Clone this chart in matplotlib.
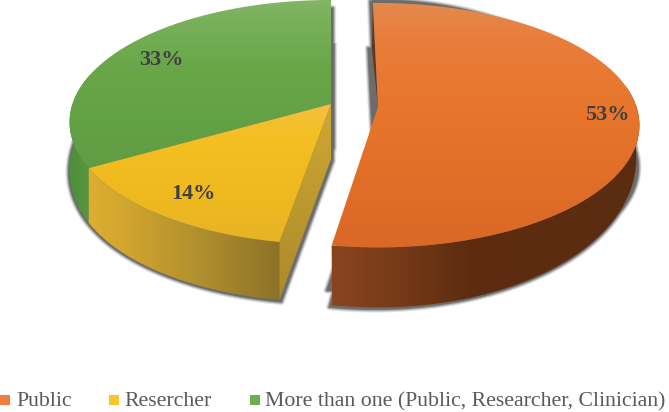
import numpy as np
import matplotlib
matplotlib.use("Agg")
import matplotlib.pyplot as plt
from matplotlib.colors import LinearSegmentedColormap
from matplotlib.patches import Polygon, Rectangle

categories = ["Public", "Resercher", "More than one (Public, Researcher, Clinician)"]
shares = [53, 14, 33]
percent_labels = ["53%", "14%", "33%"]

W, H = 669, 412
fig = plt.figure(figsize=(W / 100, H / 100), dpi=100)
ax = fig.add_axes([0, 0, 1, 1])
ax.set_axis_off()

K, B_Y = 0.149, 119.5
ends = np.cumsum(shares) / sum(shares) * 360.0
starts = np.r_[0.0, ends[:-1]]


def project(deg, cx, cy, a=258.5):
    t = np.radians(deg)
    u, v = np.sin(t), np.cos(t)
    w = 1 + K * v
    return cx + a * u / w, cy - B_Y * v / w, v


def lower(deg, cx, cy, kind):
    x, y, v = project(deg, cx, cy)
    if kind == "front":
        d = 60 - 32 * np.clip(1 + v, 0, 2)
        x = cx + (x - cx) * 0.988
    else:
        d = 58 - 13 * np.clip(1 + v, 0, 2) ** 2
    return x, y + d


def arc(a0, a1, n=200):
    return np.linspace(a0, a1, n)


def sector(deg, cx, cy):
    x, y, _ = project(deg, cx, cy)
    return np.c_[np.r_[cx, x], np.r_[cy, y]]


def gradient_fill(poly, stops, z, axis):
    """Fill a polygon with a colour ramp running along y (axis=0) or x (axis=1)."""
    size = H if axis == 0 else W
    cmap = LinearSegmentedColormap.from_list("g", [(p / size, c) for p, c in stops])
    g = np.linspace(0, 1, size)
    g = g[:, None] if axis == 0 else g[None, :]
    im = ax.imshow(g, cmap=cmap, vmin=0, vmax=1, extent=(0, W, H, 0), aspect="auto",
                   interpolation="bilinear", zorder=z)
    patch = Polygon(poly, closed=True, transform=ax.transData, fc="none", ec="none")
    ax.add_patch(patch)
    im.set_clip_path(patch)


def wall_poly(deg, cx, cy, kind):
    xt, yt, _ = project(deg, cx, cy)
    xb, yb = lower(deg, cx, cy, kind)
    return np.c_[np.r_[xt, xb[::-1]], np.r_[yt, yb[::-1]]]


def add_shadow(polys):
    layers = [(4.5, "#e4e4e4"), (3.0, "#bcbcbc"), (1.6, "#919191"), (0.4, "#6c6c6c")]
    for i, (lw, col) in enumerate(layers):
        for p in polys:
            ax.add_patch(Polygon(p, closed=True, fc=col, ec=col, lw=lw, joinstyle="round",
                                 zorder=1 + i * 0.1))


ROT_R0, ROT_R1, ROT_L = -1.3, -2.0, -1.0
RC = (378, 107)
LC = (331, 104)
orange = arc(starts[0] + ROT_R0, ends[0] + ROT_R1)
yellow = arc(starts[1] + ROT_L, ends[1] + ROT_L)
green = arc(starts[2] + ROT_L, ends[2])
left_all = arc(starts[1] + ROT_L, ends[2], 300)

top_l = sector(left_all, *LC)
xb, yb = lower(left_all, *LC, "left")
low_l = np.c_[np.r_[LC[0], xb], np.r_[LC[1] + 55, yb]]
top_r = sector(orange, *RC)
xb, yb = lower(orange, *RC, "front")
low_r = np.c_[np.r_[RC[0], xb], np.r_[RC[1] + 30, yb]]
add_shadow([top_l + (3, 44), low_l + (2, 2), low_l + (-1, 1),
            top_r + (-5, 45), top_r + (-1, 42), low_r + (-3, 2), low_r + (0, 1)])

gradient_fill(wall_poly(arc(starts[2] + ROT_L, 285, 80), *LC, "left"),
              [(0, "#4f8f3a"), (70, "#4f8f3a"), (93, "#5a9a42"), (W, "#5a9a42")], 2, 1)
gradient_fill(wall_poly(yellow, *LC, "left"),
              [(0, "#dcae30"), (90, "#dcae30"), (130, "#cfa42f"), (200, "#b08f2e"), (279, "#8d7228"), (W, "#8d7228")], 3, 1)

x_e, y_e, _ = project(np.array([starts[1] + ROT_L]), *LC)
x_l, y_l = lower(np.array([starts[1] + ROT_L]), *LC, "left")
gradient_fill([(LC[0], LC[1]), (x_e[0], y_e[0]), (x_l[0], y_l[0]), (LC[0], LC[1] + 55)],
              [(0, "#d0a733"), (104, "#d0a733"), (300, "#ab8a2a"), (H, "#ab8a2a")], 4, 0)

gradient_fill(sector(green, *LC), [(0, "#82b564"), (30, "#74ae56"), (70, "#68a648"), (170, "#5f9c43"), (H, "#5f9c43")], 5, 0)
gradient_fill(sector(yellow, *LC), [(0, "#f3c041"), (104, "#f3c041"), (135, "#f4bf22"), (200, "#eeb91f"), (245, "#e6b326"), (H, "#e6b326")], 6, 0)

gradient_fill(wall_poly(arc(80, ends[0] + ROT_R1, 160), *RC, "front"),
              [(0, "#8a4420"), (333, "#8a4420"), (400, "#753a18"), (470, "#5e2c10"), (640, "#5a2c10"), (W, "#5a2c10")], 2, 1)
xt, yt, _ = project(np.array([starts[0] + ROT_R0]), *RC)
ax.add_patch(Polygon([(xt[0], yt[0]), (RC[0], RC[1]), (xt[0] - 1, yt[0] + 45)], closed=True,
                     fc="#5a3a22", ec="none", zorder=2))
gradient_fill(sector(orange, *RC), [(0, "#e5894f"), (40, "#e87d3a"), (110, "#e8752b"), (200, "#df6c27"), (245, "#da6826"), (H, "#da6826")], 6, 0)

ax.set_xlim(0, W)
ax.set_ylim(H, 0)

label_pos = [(607, 115), (193, 194), (161, 60)]
for txt, (x, y) in zip(percent_labels, label_pos):
    ax.text(x, y, txt, family="Liberation Serif", weight="bold", fontsize=16,
            color="#404040", ha="center", va="center", zorder=10)

leg_colors = ["#ec7f3c", "#f6c62a", "#6fae4f"]
sq_x = [0, 109, 250]
tx_x = [16, 124, 265]
for name, col, sx, tx in zip(categories, leg_colors, sq_x, tx_x):
    ax.add_patch(Rectangle((sx, 395), 10, 10, fc=col, ec="none", zorder=10))
    ax.text(tx, 401.5, name, family="Liberation Serif", fontsize=15.7, color="#595959",
            ha="left", va="center", zorder=10)

fig.savefig("out.png", dpi=100, facecolor="white")
